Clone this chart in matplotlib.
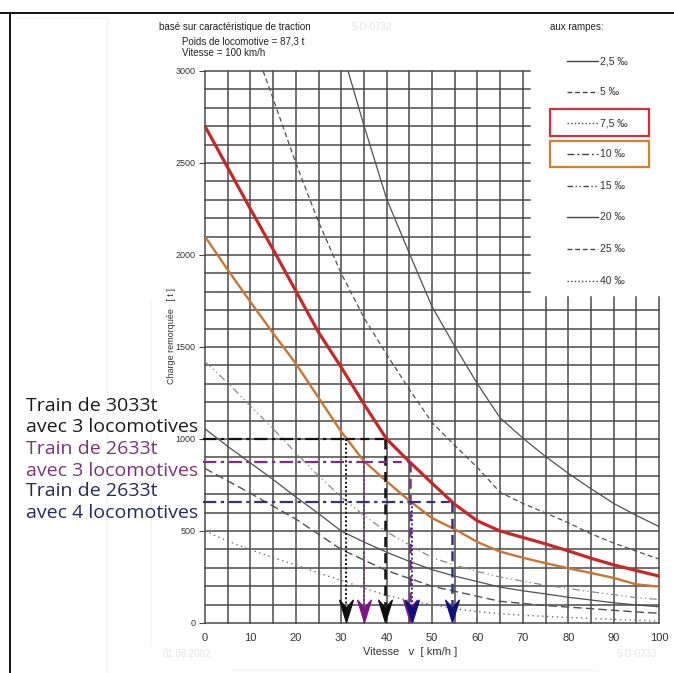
import numpy as np
import matplotlib.pyplot as plt
from matplotlib.lines import Line2D
from matplotlib.patches import Rectangle

W, H = 674, 673

# load curves (charge remorquee [t] vs vitesse [km/h]) per ramp
v_2_5 = [31.5, 35, 40, 45, 50, 55, 60, 65, 70, 75, 80, 85, 90, 95, 100]
t_2_5 = [3000, 2705, 2305, 2010, 1720, 1505, 1300, 1115, 1005, 905, 814, 730, 650, 585, 524]

v_5 = [12.8, 15, 20, 25, 30, 35, 40, 45, 50, 55, 60, 65, 70, 75, 80, 85, 90, 95, 100]
t_5 = [3000, 2850, 2500, 2180, 1900, 1660, 1460, 1270, 1090, 965, 845, 710, 650, 598, 545, 485, 435, 390, 348]

v_7_5 = [0, 5, 10, 15, 20, 25, 30, 35, 40, 45, 50, 55, 60, 65, 70, 75, 80, 85, 90, 95, 100]
t_7_5 = [2700, 2475, 2250, 2030, 1805, 1580, 1390, 1190, 1000, 877, 760, 645, 555, 500, 465, 430, 392, 352, 316, 285, 255]

v_10 = [0, 5, 10, 15, 20, 25, 30, 35, 40, 45, 50, 55, 60, 65, 70, 75, 80, 85, 90, 95, 100]
t_10 = [2100, 1920, 1745, 1575, 1410, 1225, 1040, 880, 770, 665, 570, 510, 440, 388, 355, 325, 298, 272, 245, 210, 198]

v_15 = [0, 5, 10, 15, 20, 25, 30, 35, 40, 45, 50, 55, 60, 65, 75, 85, 95, 100]
t_15 = [1420, 1305, 1180, 1055, 925, 800, 685, 585, 495, 425, 355, 315, 280, 250, 205, 170, 138, 128]

v_20 = [0, 5, 10, 15, 20, 25, 30, 35, 40, 45, 50, 55, 60, 65, 70, 75, 80, 85, 90, 95, 100]
t_20 = [1055, 960, 870, 780, 685, 595, 500, 440, 385, 335, 290, 255, 225, 195, 175, 158, 140, 125, 110, 98, 88]

v_25 = [0, 10, 20, 30, 40, 50, 60, 65, 75, 85, 95, 100]
t_25 = [840, 705, 565, 400, 285, 200, 145, 118, 95, 78, 60, 53]

v_40 = [0, 5, 10, 15, 20, 25, 30, 35, 40, 45, 50, 55, 60, 65, 70, 80, 90, 100]
t_40 = [500, 445, 398, 355, 315, 272, 232, 190, 150, 122, 100, 78, 62, 50, 42, 30, 20, 10]

ramp_labels = ["2,5 ‰", "5 ‰", "7,5 ‰", "10 ‰", "15 ‰", "20 ‰", "25 ‰", "40 ‰"]

# trains: load, speed on 10 permille curve, speed on 7.5 permille curve
train_texts = [("Train de 3033t", "avec 3 locomotives"),
               ("Train de 2633t", "avec 3 locomotives"),
               ("Train de 2633t", "avec 4 locomotives")]
train_load = [1000, 875, 660]
train_v10 = [31.0, 35.0, 45.6]
train_v75 = [39.6, 45.2, 54.5]
train_col = ['#111111', '#7b2d86', '#34347a']
arrow_col = ['#0d0d0d', '#7d1585', '#10107a']
text_col = ['#1a1a1a', '#7a3478', '#252a5c']

x_ticks = list(range(0, 101, 10))
y_ticks = list(range(0, 3001, 500))


def fx(px):
    return px / W


def fy(py):
    return 1 - py / H


fig = plt.figure(figsize=(W / 100, H / 100), dpi=100)
ax = fig.add_axes([fx(205), fy(623), (659 - 205) / W, (623 - 71) / H])
ax.set_xlim(0, 100)
ax.set_ylim(0, 3000)
for s in ax.spines.values():
    s.set_visible(False)

# hand drawn grid: the legend covers the upper right corner
gcol = '#4a4a4a'
for v in range(0, 101, 5):
    top = 3000 if v <= 70 else 1770
    ax.plot([v, v], [0, top], color=gcol, lw=1.1, clip_on=False, zorder=1)
for t in range(0, 3001, 100):
    right = 100 if t <= 1700 else 71.5
    ax.plot([0, right], [t, t], color=gcol, lw=1.1, clip_on=False, zorder=1)

ax.set_xticks(x_ticks)
ax.set_yticks(y_ticks)
ax.tick_params(axis='x', length=0, pad=7, labelsize=8, labelcolor='#333333')
ax.tick_params(axis='y', length=4, width=0.8, color='#444444', pad=3,
               labelsize=6.5, labelcolor='#333333')
for lab in ax.get_xticklabels() + ax.get_yticklabels():
    lab.set_fontfamily('Liberation Sans')

# curves
ax.plot(v_2_5, t_2_5, color='#505050', lw=0.9, zorder=3)
ax.plot(v_5, t_5, color='#505050', lw=0.9, ls=(0, (4, 2.5)), zorder=3)
ax.plot(v_7_5, t_7_5, color='#c62828', lw=2.3, zorder=4)
ax.plot(v_10, t_10, color='#c87533', lw=1.7, zorder=4)
ax.plot(v_15, t_15, color='#8a8a8a', lw=0.9, ls=(0, (6, 2.5, 1, 2.5, 1, 2.5)), zorder=3)
ax.plot(v_20, t_20, color='#505050', lw=0.9, zorder=3)
ax.plot(v_25, t_25, color='#505050', lw=1.0, ls=(0, (6, 3)), zorder=3)
ax.plot(v_40, t_40, color='#707070', lw=1.0, ls=(0, (1, 2.5)), zorder=3)

# train reference lines and arrows
head = [(0, 0), (-0.8, 2.6), (0, 1.7), (0.8, 2.6), (0, 0)]
for i in range(3):
    load, va, vb, c = train_load[i], train_v10[i], train_v75[i], train_col[i]
    ax.plot([-0.5, va], [load, load], color=c, lw=1.6, ls=(0, (6, 2, 1.5, 2)),
            clip_on=False, zorder=5)
    ax.plot([va, vb], [load, load], color=c, lw=1.6, ls=(0, (4, 2.5)), zorder=5)
    ax.plot([va, va], [load, 90], color=c, lw=1.4, ls=(0, (1, 1.2)), zorder=5)
    ax.plot([vb, vb], [load, 90], color=c, lw=1.8, ls=(0, (4, 2.5)), zorder=5)
    ax.plot([va, vb], [5, 5], ls='none', marker=head, ms=32, color=arrow_col[i],
            mec=arrow_col[i], zorder=6)

# frame of the scanned sheet
fig.add_artist(Line2D([0, 1], [fy(13), fy(13)], color='#111111', lw=1.4))
fig.add_artist(Line2D([fx(9.5), fx(9.5)], [fy(13), 0], color='#111111', lw=1.4))
for xs, ys in [([107, 107], [18, 673]), ([15, 107], [18, 18]),
               ([151, 151], [300, 645]), ([232, 597], [670, 670])]:
    fig.add_artist(Line2D([fx(x) for x in xs], [fy(y) for y in ys],
                          color='#f3f3f3', lw=1.0))

sans = 'Liberation Sans'
fig.text(fx(159), fy(27), "basé sur caractéristique de traction", fontsize=7,
         family=sans, color='#222222', va='center')
fig.text(fx(182), fy(41), "Poids de locomotive = 87,3 t", fontsize=7,
         family=sans, color='#222222', va='center')
fig.text(fx(182), fy(53), "Vitesse = 100 km/h", fontsize=7,
         family=sans, color='#222222', va='center')
fig.text(fx(352), fy(27), "5-D-0732", fontsize=7, family=sans, color='#e2e2e2', va='center')
fig.text(fx(550), fy(27), "aux rampes:", fontsize=7, family=sans, color='#222222', va='center')
fig.text(fx(163), fy(654), "01.08.2002", fontsize=7, family=sans, color='#e4e4e4', va='center')
fig.text(fx(617), fy(654), "5-D-0733", fontsize=7, family=sans, color='#e4e4e4', va='center')
fig.text(fx(410), fy(652), "Vitesse   v  [ km/h ]", fontsize=8, family=sans,
         color='#333333', ha='center', va='center')
fig.text(fx(172), fy(336), "Charge remorquée   [ t ]", fontsize=6.5, family=sans,
         color='#333333', ha='center', va='center', rotation=90)

# legend of ramps
leg_y = [61, 92, 123, 154, 186, 217, 249, 281]
leg_ls = ['-', (0, (3.5, 2)), (0, (1, 1.6)), (0, (5, 2, 1.5, 2)),
          (0, (4, 1.8, 1, 1.8, 1, 1.8)), '-', (0, (3.5, 2)), (0, (1, 1.6))]
for lab, y, ls in zip(ramp_labels, leg_y, leg_ls):
    fig.add_artist(Line2D([fx(567), fx(598)], [fy(y), fy(y)], color='#444444',
                          lw=1.0, ls=ls))
    fig.text(fx(600), fy(y), lab, fontsize=7.5, family=sans, color='#333333', va='center')
fig.add_artist(Rectangle((fx(550), fy(136)), (649 - 550) / W, (136 - 109) / H,
                         transform=fig.transFigure, fill=False, ec='#d0303a', lw=1.6))
fig.add_artist(Rectangle((fx(550), fy(167)), (649 - 550) / W, (167 - 141) / H,
                         transform=fig.transFigure, fill=False, ec='#d08030', lw=1.6))

# annotations on the left
base_y = [411, 454, 496]
for (l1, l2), y, c in zip(train_texts, base_y, text_col):
    fig.text(fx(26), fy(y), l1, fontsize=14, family='Open Sans', color=c, va='baseline')
    fig.text(fx(26), fy(y + 21.5), l2, fontsize=14, family='Open Sans', color=c,
             va='baseline')

fig.savefig('out.png', dpi=100)
